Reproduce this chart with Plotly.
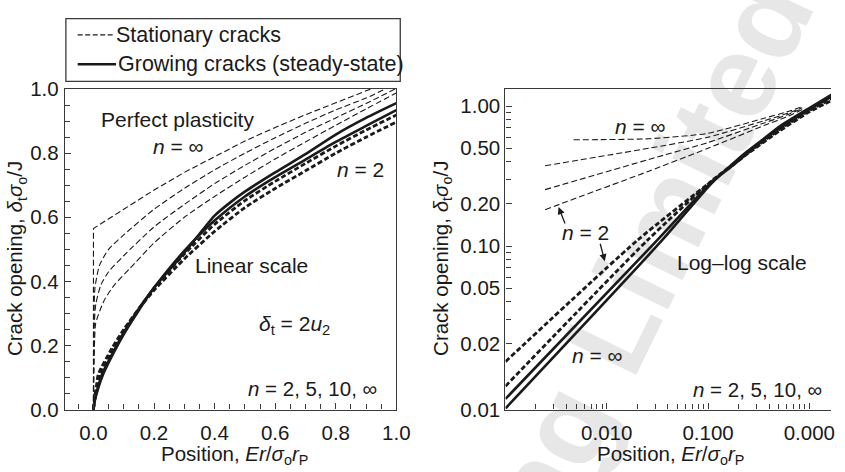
import plotly.graph_objects as go

W, H = 845, 472

# ---------------- linear-scale panel ----------------
# stationary cracks (thin dashed), n = inf, 10, 5, 2
lin_stat_inf_x = [0.0, 0.0, 0.1, 0.2, 0.3, 0.4, 0.5, 0.6, 0.7, 0.8, 0.915]
lin_stat_inf_y = [0.0, 0.565, 0.625, 0.685, 0.74, 0.79, 0.838, 0.88, 0.92, 0.957, 1.0]
lin_stat_10_x = [0.0, 0.0005, 0.002, 0.005, 0.02, 0.05, 0.1, 0.2, 0.3, 0.4, 0.5, 0.6, 0.7, 0.8, 0.9, 0.963]
lin_stat_10_y = [0.0, 0.15, 0.3, 0.38, 0.45, 0.5, 0.545, 0.625, 0.69, 0.748, 0.8, 0.848, 0.893, 0.935, 0.972, 1.0]
lin_stat_5_x = [0.0, 0.001, 0.003, 0.008, 0.025, 0.05, 0.1, 0.2, 0.3, 0.4, 0.5, 0.6, 0.7, 0.8, 0.9, 0.996]
lin_stat_5_y = [0.0, 0.15, 0.27, 0.33, 0.39, 0.43, 0.48, 0.57, 0.64, 0.705, 0.762, 0.815, 0.865, 0.91, 0.955, 1.0]
lin_stat_2_x = [0.0, 0.0015, 0.004, 0.0075, 0.035, 0.07, 0.12, 0.2, 0.3, 0.4, 0.5, 0.6, 0.7, 0.8, 0.9, 1.0]
lin_stat_2_y = [0.0, 0.12, 0.22, 0.27, 0.34, 0.39, 0.44, 0.52, 0.6, 0.665, 0.725, 0.782, 0.835, 0.887, 0.938, 0.988]

# growing cracks (steady state): thick solid n = inf, 10 ; thick dashed n = 5, 2
lin_grow_inf_x = [0.0, 0.005, 0.015, 0.032, 0.06, 0.1, 0.15, 0.2, 0.25, 0.3, 0.35, 0.4, 0.45, 0.5, 0.6, 0.7, 0.8, 0.9, 1.0]
lin_grow_inf_y = [0.0, 0.03, 0.065, 0.11, 0.165, 0.235, 0.31, 0.38, 0.435, 0.49, 0.548, 0.605, 0.645, 0.68, 0.74, 0.797, 0.858, 0.91, 0.956]
lin_grow_10_x = [0.0, 0.005, 0.015, 0.028, 0.06, 0.1, 0.15, 0.2, 0.25, 0.3, 0.35, 0.4, 0.5, 0.6, 0.7, 0.8, 0.9, 1.0]
lin_grow_10_y = [0.0, 0.033, 0.07, 0.11, 0.17, 0.24, 0.315, 0.38, 0.44, 0.495, 0.545, 0.59, 0.665, 0.725, 0.78, 0.835, 0.885, 0.934]
lin_grow_5_x = [0.0, 0.005, 0.012, 0.022, 0.06, 0.1, 0.15, 0.2, 0.3, 0.4, 0.5, 0.6, 0.7, 0.8, 0.9, 1.0]
lin_grow_5_y = [0.0, 0.037, 0.07, 0.11, 0.18, 0.245, 0.315, 0.378, 0.485, 0.578, 0.652, 0.712, 0.768, 0.822, 0.872, 0.919]
lin_grow_2_x = [0.0, 0.004, 0.01, 0.016, 0.06, 0.1, 0.15, 0.2, 0.3, 0.4, 0.5, 0.6, 0.7, 0.8, 0.9, 1.0]
lin_grow_2_y = [0.0, 0.04, 0.075, 0.11, 0.19, 0.25, 0.315, 0.372, 0.47, 0.556, 0.63, 0.69, 0.745, 0.8, 0.85, 0.897]

# ---------------- log-log panel ----------------
log_stat_inf_x = [0.0047, 0.01, 0.026, 0.1, 0.357, 0.6, 0.85]
log_stat_inf_y = [0.575, 0.577, 0.585, 0.64, 0.82, 0.91, 0.99]
log_stat_10_x = [0.00246, 0.026, 0.1, 0.357, 0.6, 0.85]
log_stat_10_y = [0.375, 0.50, 0.60, 0.787, 0.885, 0.975]
log_stat_5_x = [0.00246, 0.026, 0.1, 0.357, 0.6, 0.85]
log_stat_5_y = [0.253, 0.416, 0.55, 0.758, 0.865, 0.96]
log_stat_2_x = [0.00246, 0.026, 0.1, 0.357, 0.6, 0.85]
log_stat_2_y = [0.182, 0.343, 0.50, 0.727, 0.84, 0.945]

log_grow_inf_x = [0.001, 0.0352, 0.1076, 0.17, 0.244, 0.35, 0.515, 1.0, 1.66]
log_grow_inf_y = [0.0069, 0.11, 0.28, 0.38, 0.475, 0.58, 0.72, 0.97, 1.21]
log_grow_10_x = [0.001, 0.0315, 0.1076, 0.17, 0.244, 0.35, 0.515, 1.0, 1.66]
log_grow_10_y = [0.00807, 0.11, 0.285, 0.37, 0.46, 0.57, 0.70, 0.95, 1.17]
log_grow_5_x = [0.001, 0.0252, 0.1076, 0.244, 0.515, 1.0, 1.66]
log_grow_5_y = [0.00995, 0.11, 0.29, 0.46, 0.685, 0.93, 1.13]
log_grow_2_x = [0.001, 0.0201, 0.1076, 0.244, 0.515, 1.0, 1.66]
log_grow_2_y = [0.0149, 0.11, 0.29, 0.455, 0.67, 0.91, 1.10]

# axis ticks
lin_tick_vals = [0.0, 0.2, 0.4, 0.6, 0.8, 1.0]
lin_tick_text = ["0.0", "0.2", "0.4", "0.6", "0.8", "1.0"]
log_x_tick_vals = [0.01, 0.1, 1.0]
log_x_tick_text = ["0.010", "0.100", "0.000"]
log_y_bottom = 10 ** -2.170
log_y_tick_vals = [log_y_bottom, 0.02, 0.05, 0.1, 0.2, 0.5, 1.0]
log_y_tick_text = ["0.01", "0.02", "0.05", "0.10", "0.20", "0.50", "1.00"]
log_x_minor = [k * 10.0 ** d for d in (-3, -2, -1) for k in range(2, 10)]
log_y_minor = [k * 10.0 ** d for d in (-2, -1) for k in (3, 4, 6, 7, 8, 9)]

FONT = "Liberation Sans, Arial, sans-serif"
INK = "#1a1a1a"
AX = "#3a3a3a"

THIN_DASH = dict(color=INK, width=1.1, dash="6px,3px")
THICK_DASH = dict(color=INK, width=2.8, dash="5px,2.5px")
THICK = dict(color=INK, width=2.6)

fig = go.Figure()


def add(x, y, line, xa, ya, smooth=True):
    shape = dict(shape="spline", smoothing=0.6) if smooth else dict(shape="linear")
    fig.add_trace(go.Scatter(x=x, y=y, mode="lines", line=dict(**shape, **line),
                             xaxis=xa, yaxis=ya, showlegend=False, hoverinfo="skip"))


# linear panel
add(lin_stat_inf_x, lin_stat_inf_y, THIN_DASH, "x", "y", smooth=False)
add(lin_stat_10_x, lin_stat_10_y, THIN_DASH, "x", "y")
add(lin_stat_5_x, lin_stat_5_y, THIN_DASH, "x", "y")
add(lin_stat_2_x, lin_stat_2_y, THIN_DASH, "x", "y")
add(lin_grow_2_x, lin_grow_2_y, THICK_DASH, "x", "y")
add(lin_grow_5_x, lin_grow_5_y, THICK_DASH, "x", "y")
add(lin_grow_10_x, lin_grow_10_y, THICK, "x", "y")
add(lin_grow_inf_x, lin_grow_inf_y, THICK, "x", "y")

# log-log panel
add(log_stat_inf_x, log_stat_inf_y, THIN_DASH, "x2", "y2")
add(log_stat_10_x, log_stat_10_y, THIN_DASH, "x2", "y2")
add(log_stat_5_x, log_stat_5_y, THIN_DASH, "x2", "y2")
add(log_stat_2_x, log_stat_2_y, THIN_DASH, "x2", "y2")
add(log_grow_2_x, log_grow_2_y, THICK_DASH, "x2", "y2")
add(log_grow_5_x, log_grow_5_y, THICK_DASH, "x2", "y2")
add(log_grow_10_x, log_grow_10_y, THICK, "x2", "y2")
add(log_grow_inf_x, log_grow_inf_y, THICK, "x2", "y2")


def px(v):
    return v / W


def py(v):
    return 1 - v / H


tickfont = dict(family=FONT, size=20.5, color=INK)
common = dict(showline=True, linecolor=AX, linewidth=1.3, ticks="inside", tickcolor=AX,
              ticklen=6, tickwidth=1.2, showgrid=False, zeroline=False, tickfont=tickfont)
minor_style = dict(ticks="inside", ticklen=5, tickcolor=AX, tickwidth=1.1)

fig.update_layout(
    width=W, height=H,
    margin=dict(l=0, r=0, t=0, b=0),
    paper_bgcolor="white",
    plot_bgcolor="rgba(0,0,0,0)",
    xaxis=dict(domain=[px(66), px(403)], range=[-0.0942, 1.0], anchor="y", mirror=True,
               tickvals=lin_tick_vals, ticktext=lin_tick_text, ticklabelstandoff=5,
               minor=dict(dtick=0.05, tick0=0, **minor_style), **common),
    yaxis=dict(domain=[py(418), py(81)], range=[0, 1.0], anchor="x", mirror=True,
               tickvals=lin_tick_vals, ticktext=lin_tick_text, ticklabelstandoff=1,
               minor=dict(dtick=0.05, tick0=0, **minor_style), **common),
    xaxis2=dict(domain=[px(514), 1.0], type="log", range=[-3, 0.2136], anchor="y2", mirror=True,
                tickvals=log_x_tick_vals, ticktext=log_x_tick_text, ticklabeloverflow="allow",
                ticklabelstandoff=5,
                minor=dict(tickvals=log_x_minor, **minor_style), **common),
    yaxis2=dict(domain=[py(418), py(81)], type="log", range=[-2.170, 0.1224], anchor="x2", mirror=False,
                tickvals=log_y_tick_vals, ticktext=log_y_tick_text, ticklabelstandoff=0,
                minor=dict(tickvals=log_y_minor, **minor_style), **common),
)


def label(text, x, y, angle=0, size=21, xanchor="center", yanchor="middle"):
    fig.add_annotation(text=text, x=px(x), y=py(y), xref="paper", yref="paper", showarrow=False,
                       textangle=angle, xanchor=xanchor, yanchor=yanchor, borderpad=0,
                       font=dict(family=FONT, size=size, color=INK))


ytitle = "Crack opening, <i>δ</i><sub>t</sub><i>σ</i><sub>o</sub>/J"
xtitle = "Position, <i>Er</i>/<i>σ</i><sub>o</sub><i>r</i><sub>P</sub>"
label(ytitle, 17, 259, angle=-90, size=20.5)
label(ytitle, 450, 259, angle=-90, size=20.5)
label(xtitle, 238, 466, size=20.5)
label(xtitle, 682, 466, size=20.5)

label("Perfect plasticity", 180, 113)
label("<i>n</i> = ∞", 182, 141)
label("<i>n</i> = 2", 367, 166)
label("Linear scale", 256, 266)
label("<i>δ</i><sub>t</sub> = 2<i>u</i><sub>2</sub>", 299, 329)
label("<i>n</i> = 2, 5, 10, ∞", 318, 396, size=20.5)

label("<i>n</i> = ∞", 651, 120)
label("<i>n</i> = 2", 595, 232)
label("Log–log scale", 754, 263)
label("<i>n</i> = ∞", 608, 361)
label("<i>n</i> = 2, 5, 10, ∞", 770, 397, size=20.5)

# arrows from the n = 2 label to the n = 2 curves
for hx, hy, ax, ay in [(568, 205, 7, 18), (615, 262, -5, -19)]:
    fig.add_annotation(text="", x=px(hx), y=py(hy), xref="paper", yref="paper", showarrow=True,
                       ax=ax, ay=ay, arrowhead=2, arrowsize=1.1, arrowwidth=1.3, arrowcolor=INK)

# key box
fig.add_shape(type="rect", xref="paper", yref="paper", x0=px(67), x1=px(407), y0=py(73), y1=py(7),
              line=dict(color=AX, width=1.3), fillcolor="white")
fig.add_shape(type="line", xref="paper", yref="paper", x0=px(79), x1=px(116), y0=py(24), y1=py(24),
              line=dict(color=INK, width=1.1, dash="5px,2.5px"))
fig.add_shape(type="line", xref="paper", yref="paper", x0=px(79), x1=px(118), y0=py(55), y1=py(55),
              line=dict(color=INK, width=2.6))
label("Stationary cracks", 117, 24, xanchor="left", size=21.5)
label("Growing cracks (steady-state)", 119, 55, xanchor="left", size=21.5)

# faint publisher watermark behind the curves
fig.add_shape(type="rect", xref="paper", yref="paper", x0=px(620), x1=px(680), y0=py(280), y1=py(220),
              layer="below", line=dict(width=0), fillcolor="rgba(0,0,0,0)",
              label=dict(text="ng Limited", textangle=-64, textposition="middle center",
                         font=dict(family=FONT, size=118, color="#e7e7e7", weight="bold")))

fig.write_html("out.html")
